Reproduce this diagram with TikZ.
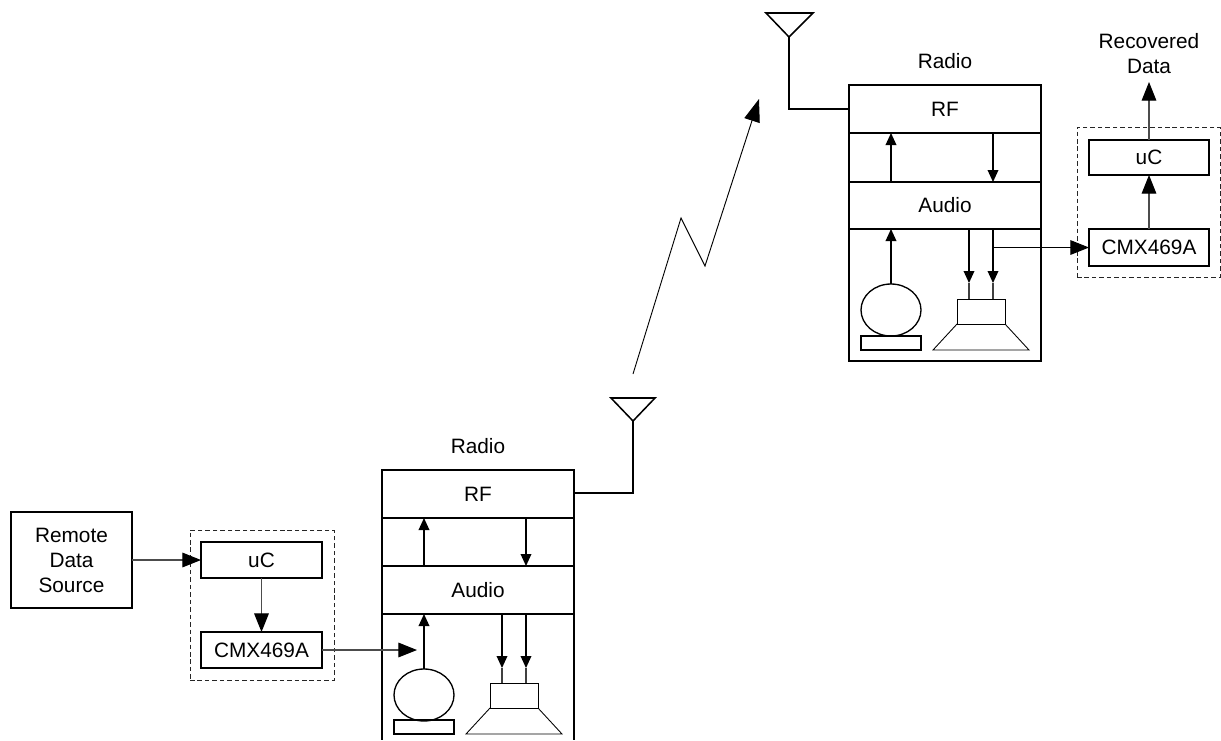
\documentclass[tikz,border=0pt]{standalone}
\usepackage{fontspec}
\setmainfont{Liberation Sans}
\usetikzlibrary{arrows.meta,shapes.geometric}
\newcommand{\pxbox}[7][pbox]{%
  \pgfmathsetmacro{\pw}{(#5-#3)*0.75}%
  \pgfmathsetmacro{\ph}{(#6-#4)*0.75}%
  \node[#1,minimum width=\pw pt,minimum height=\ph pt] (#2) at ({(#3+#5)/2},{(#4+#6)/2}) {#7};}
\tikzset{
  pbox/.style={draw=black,line width=1.15pt,inner sep=0pt,outer sep=0pt,align=center,font=\fontsize{15.6pt}{18.75pt}\selectfont},
  label text/.style={inner sep=0pt,align=center,font=\fontsize{15.6pt}{18.75pt}\selectfont},
  thinline/.style={draw=black!75,line width=0.8pt},
  wire/.style={draw=black,line width=1.15pt},
  smallarrow/.style={draw=black,line width=1.0pt,-{Triangle[length=9pt,width=8pt]}},
  bigarrow/.style={draw=black!70,line width=0.85pt,-{Triangle[length=14pt,width=11pt,color=black]}},
  speaker/.style={draw=black,line width=0.65pt},
  micstyle/.style={draw=black,line width=1pt,ellipse,inner sep=0pt,outer sep=0pt,minimum width=45pt,minimum height=39pt},
  dashbox/.style={draw=black!85,line width=0.65pt,dash pattern=on 3.4pt off 2.2pt,inner sep=0pt,outer sep=0pt}
}
\begin{document}
\begin{tikzpicture}[x=0.75pt,y=-0.75pt]
\useasboundingbox (0,0) rectangle (1221,740);

% ---------- sending side
\pxbox{source}{11}{512}{132}{608}{Remote\\Data\\Source}
\pxbox[dashbox]{dashL}{190}{530}{334}{680}{}
\pxbox{ucL}{201}{542}{322}{578}{uC}
\pxbox{cmxL}{201}{632}{322}{668}{CMX469A}
\draw[bigarrow] (source.east |- ucL.west) -- (ucL.west);
\draw[bigarrow] (ucL.south) -- (cmxL.north);

\node[label text] (radioL) at (478,446) {Radio};
\pxbox{rfL}{382}{470}{574}{518}{RF}
\pxbox{audL}{382}{566}{574}{614}{Audio}
\coordinate (botLa) at (382,740);
\coordinate (botLb) at (574,740);
\draw[wire] (rfL.south west) -- (audL.north west);
\draw[wire] (rfL.south east) -- (audL.north east);
\draw[wire] (audL.south west) -- (botLa);
\draw[wire] (audL.south east) -- (botLb);

\coordinate (upLa) at (424,566);
\coordinate (upLb) at (424,518);
\coordinate (dnLa) at (526,518);
\coordinate (dnLb) at (526,566);
\draw[smallarrow] (upLa) -- (upLb);
\draw[smallarrow] (dnLa) -- (dnLb);

\node[micstyle] (micL) at (424,695) {};
\pxbox[pbox,line width=0.95pt]{standL}{394}{720}{454}{734}{}
\coordinate (audLm) at (424,614);
\draw[smallarrow] (micL.north) -- (audLm);
\coordinate (cmxLend) at (417,650);
\draw[bigarrow] (cmxL.east) -- (cmxL.east -| cmxLend);

\pxbox[speaker,inner sep=0pt,outer sep=0pt]{spkL}{490}{683}{538}{708}{}
\coordinate (coneLa) at (466,734);
\coordinate (coneLb) at (562,734);
\draw[speaker] (spkL.south west) -- (coneLa) -- (coneLb) -- (spkL.south east);
\coordinate (spkLa) at (502,683);
\coordinate (spkLb) at (526,683);
\coordinate (audLa) at (502,614);
\coordinate (audLb) at (526,614);
\coordinate (spkLah) at (502,668);
\coordinate (spkLbh) at (526,668);
\draw[thinline] (spkLa) -- (spkLah);
\draw[thinline] (spkLb) -- (spkLbh);
\draw[smallarrow] (audLa) -- (spkLah);
\draw[smallarrow] (audLb) -- (spkLbh);

% antenna left
\coordinate (antLa) at (611,398);
\coordinate (antLb) at (655,398);
\coordinate (antLt) at (633,421);
\coordinate (antLc) at (633,493);
\draw[wire,line join=miter] (antLa) -- (antLb) -- (antLt) -- cycle;
\draw[wire] (antLt) -- (antLc) -- (rfL.east |- antLc);

% radio link
\coordinate (linkA) at (633,374);
\coordinate (linkB) at (681,218);
\coordinate (linkC) at (705,266);
\coordinate (linkD) at (759,99);
\draw[draw=black,line width=0.7pt,line join=miter,-{Triangle[length=17pt,width=12pt]}] (linkA) -- (linkB) -- (linkC) -- (linkD);

% ---------- receiving side
\node[label text] (radioR) at (945,61) {Radio};
\pxbox{bodyR}{849}{85}{1041}{361}{}
\pxbox{rfR}{849}{85}{1041}{133}{RF}
\pxbox{audR}{849}{182}{1041}{229}{Audio}
\coordinate (upRa) at (891,182);
\coordinate (upRb) at (891,133);
\coordinate (dnRa) at (993,133);
\coordinate (dnRb) at (993,182);
\draw[smallarrow] (upRa) -- (upRb);
\draw[smallarrow] (dnRa) -- (dnRb);

\node[micstyle] (micR) at (891,310) {};
\pxbox[pbox,line width=0.95pt]{standR}{861}{336}{921}{350}{}
\coordinate (audRm) at (891,229);
\draw[smallarrow] (micR.north) -- (audRm);

\pxbox[speaker,inner sep=0pt,outer sep=0pt]{spkR}{957}{299}{1005}{324}{}
\coordinate (coneRa) at (933,350);
\coordinate (coneRb) at (1029,350);
\draw[speaker] (spkR.south west) -- (coneRa) -- (coneRb) -- (spkR.south east);
\coordinate (spkRa) at (969,299);
\coordinate (spkRb) at (993,299);
\coordinate (audRa) at (969,229);
\coordinate (audRb) at (993,229);
\coordinate (spkRah) at (969,283);
\coordinate (spkRbh) at (993,283);
\draw[thinline] (spkRa) -- (spkRah);
\draw[thinline] (spkRb) -- (spkRbh);
\draw[smallarrow] (audRa) -- (spkRah);
\draw[smallarrow] (audRb) -- (spkRbh);

% antenna right
\coordinate (antRa) at (766,13);
\coordinate (antRb) at (813,13);
\coordinate (antRt) at (789,37);
\coordinate (antRc) at (789,109);
\draw[wire,line join=miter] (antRa) -- (antRb) -- (antRt) -- cycle;
\draw[wire] (antRt) -- (antRc) -- (rfR.west |- antRc);

% data recovery
\pxbox[dashbox]{dashR}{1077}{127}{1220}{277}{}
\pxbox{ucR}{1089}{140}{1209}{175}{uC}
\pxbox{cmxR}{1089}{229}{1209}{266}{CMX469A}
\node[label text] (recov) at (1149,54) {Recovered\\Data};
\coordinate (recovEnd) at (1149,82);
\coordinate (tapR) at (993,248);
\draw[bigarrow] (cmxR.north) -- (ucR.south);
\draw[bigarrow] (ucR.north) -- (recovEnd);
\draw[draw=black,line width=0.75pt,-{Triangle[length=14pt,width=11pt]}] (tapR |- cmxR.west) -- (cmxR.west);
\end{tikzpicture}
\end{document}
